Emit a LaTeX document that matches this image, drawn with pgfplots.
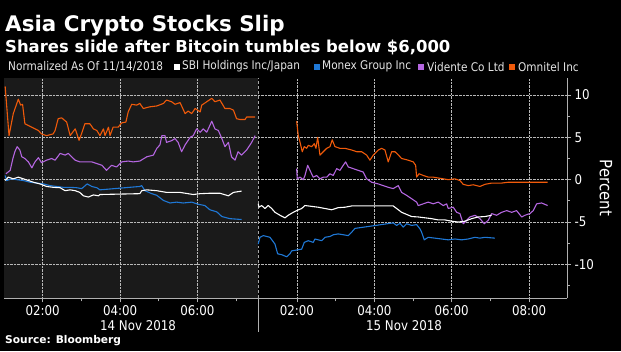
\documentclass[border=0pt]{standalone}
\usepackage{fontspec}
\setmainfont{DejaVu Sans}
\newfontfamily\condf{DejaVu Sans}[FakeStretch=0.88]
\usepackage{pgfplots}
\pgfplotsset{compat=1.18}
\usetikzlibrary{backgrounds}
\definecolor{sbi}{HTML}{FFFFFF}
\definecolor{monex}{HTML}{1F78D6}
\definecolor{vid}{HTML}{B466E0}
\definecolor{omn}{HTML}{F05A0A}
\definecolor{panel}{HTML}{1A1A1A}
\definecolor{axisgray}{HTML}{B0B0B0}
\begin{document}
\begin{tikzpicture}[x=1bp,y=1bp]
\begin{axis}[
  scale only axis, width=563bp, height=220.3bp,
  xmin=1, xmax=15.55, ymin=-14, ymax=12,
  axis x line*=bottom, axis y line*=right,
  axis line style={axisgray, line width=0.9pt},
  xtick={2,4,6,8.57,10.57,12.57,14.57},
  xticklabels={02:00,04:00,06:00,02:00,04:00,06:00,08:00},
  minor xtick={3,5,7,9.57,11.57,13.57},
  ytick={-10,-5,0,5,10}, yticklabels={-10,-5,0,5,10},
  minor ytick={-12.5,-7.5,-2.5,2.5,7.5},
  tick align=outside, major tick length=4bp, minor tick length=3bp,
  tick style={axisgray, line width=0.8pt},
  grid=major, major grid style={densely dotted, gray!55, line width=0.6pt},
  ticklabel style={font=\condf\fontsize{13.5}{15}\selectfont, white},
  every axis plot/.append style={line width=1.1pt, line join=round},
]
\coordinate (O) at (rel axis cs:0,0);
\draw[densely dashed, gray!70, line width=0.8pt] (axis cs:7.563,-14) -- (axis cs:7.563,12);
% Omnitel
\addplot[omn] coordinates {(1.03,11.0)(1.13,5.2)(1.24,7.8)(1.37,9.5)(1.43,8.8)(1.48,8.9)(1.54,6.6)(1.63,6.4)(1.89,5.8)(1.97,5.4)(2.10,5.2)(2.27,5.4)(2.32,5.8)(2.40,7.2)(2.49,7.3)(2.62,6.8)(2.71,5.2)(2.84,6.0)(2.94,4.65)(3.01,5.5)(3.09,6.6)(3.22,6.6)(3.31,6.0)(3.40,5.8)(3.48,5.2)(3.57,6.0)(3.61,5.2)(3.70,6.2)(3.74,5.2)(3.82,6.2)(3.95,6.2)(4.04,6.7)(4.15,6.8)(4.21,8.0)(4.30,8.9)(4.43,8.8)(4.51,9.0)(4.60,8.4)(4.77,8.6)(4.95,8.7)(5.12,9.0)(5.20,9.4)(5.33,9.2)(5.42,8.9)(5.55,9.1)(5.68,7.8)(5.76,8.1)(5.85,7.8)(5.94,8.4)(6.07,8.0)(6.11,8.8)(6.24,9.2)(6.37,9.6)(6.45,9.2)(6.58,9.4)(6.71,8.4)(6.84,8.4)(6.93,8.2)(7.01,7.2)(7.10,7.1)(7.23,7.1)(7.27,7.4)(7.49,7.4)};
\addplot[omn] coordinates {(8.563,6.9)(8.605,5.2)(8.649,4.45)(8.708,3.3)(8.760,3.9)(8.822,3.7)(8.863,4.05)(8.951,3.9)(9.018,4.25)(9.062,3.7)(9.106,5.0)(9.165,2.9)(9.251,3.3)(9.339,3.7)(9.424,3.9)(9.483,4.7)(9.553,3.9)(9.682,3.7)(9.811,3.7)(9.984,3.5)(10.114,3.3)(10.243,3.3)(10.372,2.9)(10.457,2.3)(10.543,2.9)(10.672,3.5)(10.760,3.7)(10.845,3.5)(10.930,2.1)(11.018,3.3)(11.103,3.3)(11.173,3.0)(11.276,2.5)(11.447,2.3)(11.576,2.1)(11.638,1.7)(11.664,0.3)(11.724,0.7)(11.835,0.5)(11.964,0.3)(12.093,0.3)(12.222,0.2)(12.351,0.1)(12.481,0)(12.654,0.1)(12.783,-0.1)(12.868,-0.55)(12.997,-0.7)(13.127,-0.6)(13.300,-0.8)(13.429,-0.55)(13.602,-0.4)(13.860,-0.4)(14.031,-0.3)(14.377,-0.3)(14.721,-0.3)(15.049,-0.3)};
% Vidente
\addplot[vid] coordinates {(1.05,0.7)(1.16,1.1)(1.23,2.5)(1.28,3.3)(1.34,3.9)(1.41,3.5)(1.46,2.7)(1.54,2.5)(1.63,2.1)(1.72,1.4)(1.80,2.1)(1.89,2.6)(1.97,2.0)(2.10,2.3)(2.23,2.5)(2.32,2.3)(2.45,3.1)(2.58,2.9)(2.66,3.1)(2.75,2.7)(2.84,2.3)(2.96,2.1)(3.14,2.1)(3.27,2.1)(3.40,1.9)(3.53,1.7)(3.65,1.1)(3.78,1.7)(3.91,1.5)(4.04,2.1)(4.21,2.2)(4.34,2.1)(4.51,2.2)(4.69,2.7)(4.86,2.9)(4.95,3.7)(5.03,4.1)(5.08,5.2)(5.16,5.2)(5.20,4.4)(5.33,4.6)(5.42,4.85)(5.50,4.4)(5.59,3.3)(5.68,4.1)(5.81,5.0)(5.89,5.2)(5.98,6.0)(6.07,5.6)(6.15,6.0)(6.24,5.6)(6.37,6.9)(6.45,6.0)(6.54,5.8)(6.63,4.85)(6.71,3.9)(6.80,4.4)(6.88,2.7)(6.97,2.3)(7.05,3.3)(7.14,2.9)(7.27,3.5)(7.40,4.4)(7.49,5.2)};
\addplot[vid] coordinates {(8.563,1.3)(8.579,0.1)(8.649,0.3)(8.734,0)(8.778,0.5)(8.848,1.7)(8.907,1.1)(8.992,0.3)(9.080,0.5)(9.165,0.1)(9.251,0.3)(9.339,0.3)(9.424,0.7)(9.509,0.5)(9.597,1.3)(9.682,1.1)(9.767,1.7)(9.829,2.1)(9.897,1.5)(10.026,1.3)(10.155,1.1)(10.284,0.9)(10.372,0.1)(10.501,-0.3)(10.672,-0.5)(10.801,-0.7)(10.930,-0.9)(11.059,-1.05)(11.189,-0.7)(11.276,-1.5)(11.406,-1.85)(11.535,-2.25)(11.664,-2.65)(11.705,-3.05)(11.835,-2.85)(11.964,-2.65)(12.093,-2.85)(12.222,-2.65)(12.351,-3.05)(12.439,-2.85)(12.481,-3.4)(12.610,-3.25)(12.698,-3.85)(12.783,-4.0)(12.868,-5.2)(12.956,-4.8)(13.041,-4.4)(13.171,-4.2)(13.300,-4.6)(13.411,-5.2)(13.514,-4.8)(13.602,-4.0)(13.731,-4.2)(13.860,-3.85)(13.990,-3.65)(14.119,-3.85)(14.248,-3.65)(14.377,-4.4)(14.463,-4.2)(14.592,-4.0)(14.677,-3.65)(14.765,-2.85)(14.894,-2.75)(15.049,-3.05)};
% Monex
\addplot[monex] coordinates {(1.03,0.5)(1.07,-0.1)(1.20,0.1)(1.33,0)(1.50,-0.1)(1.67,-0.3)(1.85,-0.4)(2.02,-0.5)(2.19,-0.7)(2.36,-0.8)(2.53,-0.9)(2.71,-0.9)(2.88,-0.95)(3.01,-1.05)(3.15,-0.5)(3.27,-0.8)(3.40,-0.95)(3.48,-1.2)(4.51,-0.8)(4.56,-0.7)(4.64,-1.3)(4.82,-1.65)(4.95,-1.85)(5.12,-2.45)(5.29,-2.75)(5.46,-2.65)(5.63,-2.75)(5.85,-2.65)(6.02,-2.9)(6.19,-3.05)(6.32,-3.55)(6.50,-3.8)(6.63,-4.35)(6.84,-4.6)(7.14,-4.7)};
\addplot[monex] coordinates {(7.571,-7.6)(7.615,-6.8)(7.700,-6.6)(7.873,-6.8)(8.003,-7.6)(8.072,-8.75)(8.176,-8.85)(8.305,-9.1)(8.390,-8.75)(8.434,-8.4)(8.563,-8.3)(8.693,-8.2)(8.760,-7.4)(8.863,-7.2)(8.992,-7.4)(9.036,-7.0)(9.209,-7.2)(9.295,-6.8)(9.424,-6.7)(9.509,-6.5)(9.638,-6.4)(9.767,-6.5)(9.897,-6.6)(9.984,-6.2)(10.070,-5.75)(11.059,-5.1)(11.147,-5.4)(11.233,-5.15)(11.318,-5.6)(11.406,-5.2)(11.535,-5.4)(11.664,-5.3)(11.749,-5.8)(11.793,-6.2)(11.860,-7.1)(11.964,-6.8)(12.137,-6.9)(12.310,-7.0)(12.481,-7.1)(12.654,-7.0)(12.827,-7.1)(12.997,-7.0)(13.171,-6.8)(13.300,-6.9)(13.429,-6.8)(13.687,-6.9)};
% SBI
\addplot[sbi] coordinates {(1.03,-0.1)(1.11,0.3)(1.24,0.1)(1.37,0.3)(1.50,0.1)(1.63,-0.1)(1.76,-0.3)(1.93,-0.5)(2.10,-0.8)(2.27,-0.9)(2.45,-0.95)(2.58,-1.3)(2.71,-1.2)(2.84,-1.3)(2.96,-1.5)(3.05,-1.9)(3.18,-2.05)(3.31,-1.8)(3.44,-1.9)(3.48,-1.75)(4.51,-1.65)(4.56,-1.3)(4.69,-1.2)(4.95,-1.3)(5.20,-1.5)(5.55,-1.5)(5.89,-1.75)(6.07,-1.65)(6.32,-1.6)(6.58,-1.6)(6.80,-1.9)(6.93,-1.5)(7.14,-1.35)};
\addplot[sbi] coordinates {(7.571,-2.85)(7.589,-3.25)(7.659,-3.05)(7.744,-3.4)(7.829,-3.05)(7.917,-3.4)(8.003,-3.85)(8.132,-4.2)(8.261,-4.5)(8.346,-4.2)(8.475,-3.85)(8.563,-3.65)(8.693,-3.4)(8.778,-3.05)(8.951,-3.15)(9.121,-3.25)(9.295,-3.4)(9.468,-3.55)(9.638,-3.3)(9.811,-3.25)(9.984,-3.1)(10.070,-3.1)(11.059,-3.1)(11.147,-3.4)(11.276,-3.85)(11.406,-4.1)(11.535,-4.35)(11.705,-4.4)(11.879,-4.5)(12.052,-4.6)(12.222,-4.75)(12.395,-4.75)(12.568,-4.9)(12.739,-5.0)(12.912,-4.9)(13.085,-4.6)(13.256,-4.4)(13.429,-4.35)(13.602,-4.2)};
\end{axis}
\begin{scope}[shift={(O)}, xshift=-4bp, yshift=298.3bp]
\begin{pgfonlayer}{background}
\fill[black] (0,0) rectangle (621,-351);
\fill[panel] (4,-78) rectangle (258,-298.3);
\end{pgfonlayer}
\node[anchor=base west, white, font=\bfseries\fontsize{21.5}{24}\selectfont, inner sep=0] at (5,-31) {Asia Crypto Stocks Slip};
\node[anchor=base west, white, font=\bfseries\fontsize{16.5}{19}\selectfont, inner sep=0] at (5,-52) {Shares slide after Bitcoin tumbles below \$6,000};
\begin{scope}[every node/.style={anchor=west, inner sep=0, text=white!90!black, font=\condf\fontsize{12}{14}\selectfont}]
\node at (8,-66.7) {Normalized As Of 11/14/2018};
\fill[white] (174,-64) rectangle (179.5,-69.5);
\node at (182,-66.7) {SBI Holdings Inc/Japan};
\fill[monex] (314,-64) rectangle (319.5,-69.5);
\node at (322,-66.7) {Monex Group Inc};
\fill[vid] (418,-64) rectangle (423.5,-69.5);
\node at (427,-66.7) {Vidente Co Ltd};
\fill[omn] (509,-64) rectangle (514.5,-69.5);
\node at (518,-66.7) {Omnitel Inc};
\end{scope}
\draw[axisgray, line width=0.8pt] (258,-298.3) -- (258,-332);
\node[rotate=-90, white, font=\condf\fontsize{17}{19}\selectfont, inner sep=0] at (606,-188) {Percent};
\node[white, font=\condf\fontsize{13.5}{15}\selectfont, inner sep=0] at (138,-326) {14 Nov 2018};
\node[white, font=\condf\fontsize{13.5}{15}\selectfont, inner sep=0] at (404,-326) {15 Nov 2018};
\node[anchor=west, white, font=\bfseries\fontsize{10.7}{12}\selectfont, inner sep=0] at (5,-341) {Source: Bloomberg};
\end{scope}
\end{tikzpicture}
\end{document}
